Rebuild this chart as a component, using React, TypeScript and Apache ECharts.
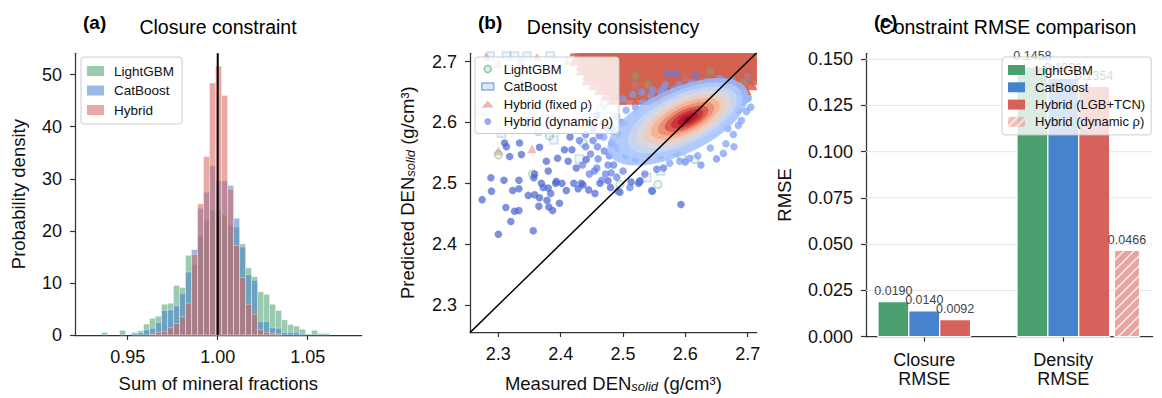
import React, { useEffect, useRef } from "react";
import * as echarts from "echarts";

const FONT = '"Liberation Sans", Arial, Helvetica, sans-serif';

// ---------------- Panel (a): closure histogram ----------------
const histFirstEdge = 0.93547;
const histBinWidth = 0.0033333;
const histLightGBM = [0.5, 0, 0, 0.9, 0, 0.5, 0.8, 2.1, 3.2, 3.6, 5.9, 6.1, 9.5, 9.1, 15.3, 13.5, 19, 22, 24, 24, 23, 21, 20.7, 17.5, 12.9, 11.2, 8.3, 7.8, 5.9, 4.7, 2.9, 2.0, 1.7, 1.1, 0.2, 0.9, 0.3, 0.3];
const histCatBoost = [0, 0, 0, 0, 0, 0.2, 0.4, 1.0, 1.3, 2.4, 4.7, 4.8, 5.6, 8.0, 12.1, 16.4, 24.3, 27.4, 32.5, 29.6, 29.6, 28.7, 22.4, 16.9, 11.6, 10.5, 2.6, 2.6, 1.4, 1.3, 0.5, 0.5, 0.5, 0.2, 0, 0, 0, 0];
const histHybrid = [0, 0, 0, 0, 0, 0, 0, 0, 0.2, 0.5, 0.7, 1.4, 2.2, 3.5, 6.1, 15.5, 25.2, 34.3, 48.4, 51.6, 46.0, 28.0, 17.2, 11.0, 5.9, 4.0, 1.0, 0.5, 0.3, 0.2, 0, 0, 0, 0, 0, 0, 0, 0];
const aXTicks = [0.95, 1.0, 1.05];
const aYTicks = [0, 10, 20, 30, 40, 50];
const closureTarget = 1.0;
const A_XMIN = 0.9207, A_XMAX = 1.08, A_YMAX = 54.1;

// ---------------- Panel (b): density scatter ----------------
const lgbmPoints = [[2.300, 2.547], [2.364, 2.585], [2.382, 2.578], [2.436, 2.566], [2.355, 2.515], [2.495, 2.498], [2.556, 2.498], [2.594, 2.544], [2.615, 2.539], [2.693, 2.665], [2.700, 2.640], [2.665, 2.630], [2.470, 2.630], [2.540, 2.662], [2.640, 2.684], [2.520, 2.676], [2.450, 2.700], [2.530, 2.590], [2.478, 2.610]];
const catPoints = [[2.287, 2.709], [2.313, 2.709], [2.326, 2.709], [2.346, 2.709], [2.383, 2.709], [2.273, 2.619], [2.305, 2.582], [2.389, 2.571], [2.693, 2.652], [2.538, 2.509], [2.700, 2.675], [2.560, 2.520], [2.465, 2.622], [2.520, 2.660], [2.480, 2.690], [2.600, 2.670], [2.430, 2.540]];
const fixedSparsePoints = [[2.300, 2.552], [2.354, 2.555], [2.281, 2.708], [2.362, 2.706], [2.410, 2.700], [2.335, 2.700], [2.300, 2.695], [2.520, 2.590], [2.690, 2.660]];
const fixedCloudRows: [number, number[]][] = [
  [2.722, [2.43, 2.45, 2.47, 2.49, 2.51, 2.53, 2.55, 2.57, 2.59, 2.61, 2.63, 2.65, 2.67, 2.69, 2.71]],
  [2.714, [2.44, 2.46, 2.48, 2.50, 2.52, 2.54, 2.56, 2.58, 2.60, 2.62, 2.64, 2.66, 2.68, 2.70]],
  [2.706, [2.43, 2.45, 2.47, 2.49, 2.51, 2.53, 2.55, 2.57, 2.59, 2.61, 2.63, 2.65, 2.67, 2.69, 2.71]],
  [2.698, [2.44, 2.46, 2.48, 2.50, 2.52, 2.54, 2.56, 2.58, 2.60, 2.62, 2.64, 2.66, 2.68, 2.70]],
  [2.690, [2.44, 2.45, 2.47, 2.49, 2.51, 2.53, 2.55, 2.57, 2.59, 2.61, 2.63, 2.65, 2.67, 2.69, 2.71]],
  [2.682, [2.45, 2.46, 2.48, 2.50, 2.52, 2.54, 2.56, 2.58, 2.60, 2.62, 2.64, 2.66, 2.68, 2.70]],
  [2.674, [2.45, 2.47, 2.49, 2.51, 2.53, 2.55, 2.57, 2.59, 2.61, 2.63, 2.65, 2.67, 2.69, 2.71]],
  [2.666, [2.46, 2.48, 2.50, 2.52, 2.54, 2.56, 2.58, 2.60, 2.62, 2.64, 2.66, 2.68, 2.70]],
  [2.658, [2.47, 2.49, 2.51, 2.53, 2.55, 2.57, 2.59, 2.61, 2.63, 2.65, 2.67, 2.69]],
  [2.650, [2.48, 2.50, 2.52, 2.54, 2.56, 2.58]],
  [2.642, [2.49, 2.51, 2.53, 2.55]],
];
// [x, y, local density 0..1]
const dynamicPoints = [
  [2.288, 2.509, 0.05], [2.309, 2.505, 0.05], [2.333, 2.505, 0.05], [2.357, 2.509, 0.05], [2.369, 2.500, 0.05], [2.392, 2.500, 0.05], [2.402, 2.500, 0.05], [2.421, 2.500, 0.05], [2.433, 2.500, 0.05], [2.436, 2.497, 0.05],
  [2.428, 2.491, 0.05], [2.445, 2.489, 0.05], [2.455, 2.483, 0.05], [2.463, 2.500, 0.05], [2.476, 2.504, 0.05], [2.480, 2.493, 0.05], [2.495, 2.485, 0.05], [2.513, 2.502, 0.05], [2.525, 2.500, 0.05], [2.527, 2.503, 0.05],
  [2.547, 2.487, 0.05], [2.593, 2.465, 0.05], [2.333, 2.491, 0.05], [2.348, 2.480, 0.05], [2.358, 2.481, 0.05], [2.366, 2.476, 0.05], [2.380, 2.492, 0.05], [2.384, 2.483, 0.05], [2.378, 2.472, 0.05], [2.398, 2.467, 0.05],
  [2.365, 2.462, 0.05], [2.381, 2.461, 0.05], [2.387, 2.455, 0.05], [2.274, 2.473, 0.05], [2.312, 2.460, 0.05], [2.326, 2.454, 0.05], [2.333, 2.455, 0.05], [2.320, 2.437, 0.05], [2.300, 2.416, 0.05], [2.356, 2.422, 0.05],
  [2.310, 2.566, 0.05], [2.334, 2.566, 0.05], [2.318, 2.544, 0.05], [2.337, 2.547, 0.05], [2.366, 2.559, 0.05], [2.377, 2.536, 0.05], [2.395, 2.541, 0.05], [2.406, 2.555, 0.05], [2.412, 2.536, 0.05], [2.358, 2.515, 0.05],
  [2.380, 2.520, 0.05], [2.393, 2.503, 0.05], [2.425, 2.525, 0.05], [2.441, 2.539, 0.05], [2.409, 2.488, 0.05], [2.372, 2.493, 0.05], [2.323, 2.488, 0.05], [2.289, 2.487, 0.05], [2.415, 2.576, 0.05], [2.418, 2.555, 0.05], [2.313, 2.560, 0.05],
  [2.440, 2.560, 0.12], [2.452, 2.570, 0.12], [2.448, 2.548, 0.12], [2.460, 2.540, 0.12], [2.470, 2.553, 0.12], [2.458, 2.525, 0.12], [2.472, 2.515, 0.12], [2.466, 2.505, 0.12], [2.485, 2.530, 0.12], [2.478, 2.545, 0.12],
  [2.490, 2.510, 0.12], [2.500, 2.520, 0.12], [2.446, 2.515, 0.12], [2.435, 2.530, 0.12], [2.482, 2.565, 0.12], [2.462, 2.578, 0.12], [2.475, 2.590, 0.12], [2.452, 2.590, 0.12], [2.440, 2.580, 0.12], [2.546, 2.488, 0.12],
  [2.527, 2.504, 0.12], [2.511, 2.493, 0.12], [2.492, 2.487, 0.12], [2.535, 2.515, 0.12], [2.565, 2.525, 0.12], [2.554, 2.523, 0.12], [2.459, 2.560, 0.12], [2.454, 2.520, 0.12], [2.476, 2.530, 0.12], [2.481, 2.517, 0.12],
  [2.571, 2.680, 0.12], [2.584, 2.680, 0.12], [2.617, 2.678, 0.12], [2.430, 2.570, 0.12], [2.445, 2.600, 0.12], [2.458, 2.612, 0.12], [2.470, 2.600, 0.15], [2.485, 2.585, 0.15], [2.498, 2.600, 0.15], [2.512, 2.580, 0.15],
  [2.528, 2.590, 0.18], [2.520, 2.560, 0.15], [2.535, 2.570, 0.18], [2.550, 2.560, 0.18], [2.505, 2.545, 0.15], [2.520, 2.540, 0.15], [2.540, 2.545, 0.15], [2.560, 2.545, 0.18], [2.585, 2.550, 0.2], [2.600, 2.535, 0.15],
  [2.625, 2.530, 0.15], [2.650, 2.540, 0.15], [2.665, 2.565, 0.2], [2.685, 2.595, 0.2], [2.695, 2.645, 0.2], [2.675, 2.670, 0.2], [2.655, 2.672, 0.2], [2.635, 2.668, 0.2], [2.610, 2.665, 0.2], [2.590, 2.662, 0.2],
  [2.565, 2.655, 0.2], [2.548, 2.653, 0.2],
  [2.581, 2.654, 0.2], [2.602, 2.657, 0.2], [2.623, 2.660, 0.2], [2.645, 2.665, 0.2], [2.661, 2.668, 0.2], [2.677, 2.660, 0.2], [2.560, 2.650, 0.2], [2.545, 2.645, 0.2], [2.690, 2.650, 0.2], [2.693, 2.633, 0.2],
  [2.690, 2.603, 0.2], [2.677, 2.580, 0.2], [2.678, 2.560, 0.2], [2.661, 2.549, 0.2], [2.640, 2.558, 0.2], [2.698, 2.618, 0.2], [2.685, 2.620, 0.2], [2.668, 2.590, 0.2], [2.607, 2.541, 0.2], [2.591, 2.536, 0.2],
  [2.575, 2.533, 0.2], [2.620, 2.545, 0.2], [2.500, 2.638, 0.2], [2.516, 2.646, 0.2], [2.532, 2.633, 0.2], [2.545, 2.635, 0.2], [2.482, 2.595, 0.2], [2.469, 2.576, 0.2], [2.492, 2.558, 0.2], [2.508, 2.565, 0.2],
  [2.490, 2.610, 0.2], [2.505, 2.620, 0.2], [2.520, 2.625, 0.2], [2.495, 2.580, 0.2], [2.510, 2.595, 0.2], [2.525, 2.610, 0.2], [2.530, 2.650, 0.2], [2.568, 2.662, 0.2], [2.655, 2.655, 0.2], [2.700, 2.640, 0.2], [2.705, 2.625, 0.2],
];
// dense core as density contours: [cx, cy, semi-major, semi-minor (data units), density]
const densityLevels = [
  [2.588, 2.601, 0.122, 0.053, 0.30],
  [2.592, 2.603, 0.108, 0.046, 0.36],
  [2.595, 2.604, 0.095, 0.040, 0.43],
  [2.597, 2.605, 0.083, 0.034, 0.50],
  [2.599, 2.605, 0.071, 0.029, 0.58],
  [2.600, 2.606, 0.060, 0.024, 0.67],
  [2.601, 2.606, 0.049, 0.019, 0.76],
  [2.602, 2.606, 0.038, 0.015, 0.85],
  [2.603, 2.606, 0.028, 0.011, 0.92],
  [2.604, 2.606, 0.018, 0.007, 0.97],
  [2.604, 2.606, 0.009, 0.0035, 1.0],
];
const densityAngle = 25;
const bTicks = [2.3, 2.4, 2.5, 2.6, 2.7];
const B_XMIN = 2.2545, B_XMAX = 2.7145, B_YMIN = 2.2555, B_YMAX = 2.7135;

// ---------------- Panel (c): RMSE bars ----------------
const rmseGroups = ["Closure\nRMSE", "Density\nRMSE"];
const rmseLightGBM = [0.0190, 0.1458];
const rmseCatBoost = [0.0140, 0.1396];
const rmseHybrid = [0.0092, 0.1354];
const rmseHybridDynamic = [null, 0.0466];
const cYTicks = [0, 0.025, 0.05, 0.075, 0.1, 0.125, 0.15];
const C_XMIN = -0.419, C_XMAX = 1.643, C_YMAX = 0.1532;

// ---------------- layout / style ----------------
const GRID_W = 286.7, GRID_H = 283.4, GRID_TOP = 53.3;
const GRID_LEFTS = [75, 470, 866];
const GREEN = "#4a9e6e", BLUE = "#4682cd", RED = "#d8615a";
const COOLWARM = ["#3b4cc0", "#5572df", "#7396f5", "#93b5fe", "#b3cdfb", "#d1dae9", "#ead4c8", "#f6bea4", "#f39c7f", "#e36c55", "#c83b3c", "#b40426"];
const TXT = "#111";
const AXIS_COLOR = "#333";

function valueAxis(gridIndex: number, min: number, max: number, ticks: number[], fmt: (v: number) => string, extra: any = {}) {
  return {
    type: "value",
    gridIndex,
    min,
    max,
    axisLine: { show: true, onZero: false, lineStyle: { color: AXIS_COLOR, width: 1.25 } },
    axisTick: { show: true, customValues: ticks, length: 5, lineStyle: { color: AXIS_COLOR, width: 1.2 } },
    axisLabel: { show: true, customValues: ticks, formatter: fmt, fontSize: 18, color: TXT, fontFamily: FONT, margin: 13 },
    splitLine: { show: false },
    nameLocation: "middle",
    nameTextStyle: { fontSize: 18.5, color: TXT, fontFamily: FONT },
    ...extra,
  };
}

function histSeries(name: string, heights: number[], color: string) {
  return {
    type: "custom",
    name,
    xAxisIndex: 0,
    yAxisIndex: 0,
    silent: true,
    data: heights.map((h, i) => [histFirstEdge + i * histBinWidth, histFirstEdge + (i + 1) * histBinWidth, h]),
    encode: { x: [0, 1], y: 2 },
    renderItem: (_p: any, api: any) => {
      const h = api.value(2);
      if (!(h > 0)) return null;
      const p0 = api.coord([api.value(0), h]);
      const p1 = api.coord([api.value(1), 0]);
      return {
        type: "rect",
        shape: { x: p0[0], y: p0[1], width: p1[0] - p0[0], height: p1[1] - p0[1] },
        style: { fill: color, opacity: 0.55, stroke: "#ffffff", lineWidth: 0.6 },
      };
    },
  };
}

// triangle markers drawn through the cartesian scale, clipped to the plot area
function triangleSeries(name: string, points: number[][], size: number, fill: string, opacity: number) {
  return {
    type: "custom",
    name,
    xAxisIndex: 1,
    yAxisIndex: 1,
    silent: true,
    clip: true,
    data: points,
    encode: { x: 0, y: 1 },
    renderItem: (_p: any, api: any) => {
      const c = api.coord([api.value(0), api.value(1)]);
      return {
        type: "polygon",
        shape: { points: [[c[0], c[1] - size * 0.6], [c[0] - size / 2, c[1] + size * 0.4], [c[0] + size / 2, c[1] + size * 0.4]] },
        style: { fill, opacity },
      };
    },
  };
}

function barSeries(name: string, vals: (number | null)[], offset: number, width: number, color: string, hatched: boolean) {
  const data: number[][] = [];
  vals.forEach((v, i) => { if (v != null) data.push([i, v]); });
  return {
    type: "custom",
    name,
    xAxisIndex: 2,
    yAxisIndex: 2,
    z: 3,
    silent: true,
    data,
    encode: { x: 0, y: 1 },
    renderItem: (_p: any, api: any) => {
      const g = api.value(0), v = api.value(1);
      const p0 = api.coord([g + offset - width / 2, v]);
      const p1 = api.coord([g + offset + width / 2, 0]);
      const w = p1[0] - p0[0], h = p1[1] - p0[1];
      const children: any[] = [
        { type: "rect", shape: { x: p0[0], y: p0[1], width: w, height: h }, style: { fill: color, stroke: "#ffffff", lineWidth: 1.2 } },
      ];
      if (hatched) {
        const lines: any[] = [];
        for (let s = -h; s < w; s += 10) {
          lines.push({ type: "line", shape: { x1: p0[0] + s, y1: p1[1], x2: p0[0] + s + h, y2: p0[1] }, style: { stroke: "rgba(255,255,255,0.85)", lineWidth: 1.3 } });
        }
        children.push({ type: "group", clipPath: { type: "rect", shape: { x: p0[0], y: p0[1], width: w, height: h } }, children: lines });
      }
      children.push({
        type: "text",
        x: (p0[0] + p1[0]) / 2,
        y: p0[1] - 4,
        style: { text: v.toFixed(4), fill: "#444", fontSize: 12.5, fontFamily: FONT, align: "center", verticalAlign: "bottom", textAlign: "center", textVerticalAlign: "bottom" },
      });
      return { type: "group", children };
    },
  };
}

function buildOption() {
  const pxPerX = GRID_W / (B_XMAX - B_XMIN);
  const pxPerY = GRID_H / (B_YMAX - B_YMIN);
  const fixedCloud: number[][] = [];
  fixedCloudRows.forEach(([y, xs]) => xs.forEach((x) => fixedCloud.push([x, y])));

  const series: any[] = [];
  // (a)
  series.push(histSeries("LightGBM", histLightGBM, GREEN));
  series.push(histSeries("CatBoost", histCatBoost, BLUE));
  series.push(histSeries("Hybrid", histHybrid, RED));
  series.push({
    type: "line", xAxisIndex: 0, yAxisIndex: 0, silent: true, symbol: "none", z: 5,
    data: [[closureTarget, 0], [closureTarget, A_YMAX]],
    lineStyle: { color: "#000", width: 2 },
  });
  // (b)
  series.push({
    type: "scatter", name: "LightGBM", xAxisIndex: 1, yAxisIndex: 1, silent: true, symbol: "circle", symbolSize: 8,
    data: lgbmPoints,
    itemStyle: { color: "rgba(150,210,170,0.25)", borderColor: "rgba(80,170,110,0.45)", borderWidth: 1.5 },
  });
  series.push({
    type: "scatter", name: "CatBoost", xAxisIndex: 1, yAxisIndex: 1, silent: true, symbol: "rect", symbolSize: 8,
    data: catPoints,
    itemStyle: { color: "rgba(150,185,235,0.18)", borderColor: "rgba(80,130,205,0.3)", borderWidth: 1.5 },
  });
  series.push(triangleSeries("Hybrid (fixed ρ)", fixedSparsePoints, 9, "#d8604f", 0.4));
  series.push(triangleSeries("Hybrid (fixed ρ)", fixedCloud, 20, "#d5604f", 0.85));
  const dynIndex = series.length;
  series.push({
    type: "scatter", name: "Hybrid (dynamic ρ)", xAxisIndex: 1, yAxisIndex: 1, silent: true, symbol: "circle", symbolSize: 7.5,
    data: dynamicPoints,
    itemStyle: { color: "#4a62d6", opacity: 0.7 },
  });
  const coreIndex = series.length;
  series.push({
    type: "scatter", name: "densityCore", xAxisIndex: 1, yAxisIndex: 1, silent: true, symbol: "circle",
    symbolSize: (val: number[]) => [2 * val[2] * pxPerX, 2 * val[3] * pxPerY],
    symbolRotate: densityAngle,
    data: densityLevels,
    encode: { x: 0, y: 1 },
    itemStyle: { opacity: 1 },
  });
  series.push({
    type: "line", xAxisIndex: 1, yAxisIndex: 1, silent: true, symbol: "none", z: 5,
    data: [[B_XMIN, B_XMIN], [B_XMAX, B_XMAX]],
    lineStyle: { color: "#000", width: 1.5 },
  });
  // (c)
  series.push({
    type: "custom", xAxisIndex: 2, yAxisIndex: 2, z: 1, silent: true,
    data: cYTicks.slice(1).map((v) => [v]),
    encode: { y: 0 },
    renderItem: (_p: any, api: any) => {
      const v = api.value(0);
      const a = api.coord([C_XMIN, v]);
      const b = api.coord([C_XMAX, v]);
      return { type: "line", shape: { x1: a[0], y1: a[1], x2: b[0], y2: b[1] }, style: { stroke: "#e6e6e6", lineWidth: 1 } };
    },
  });
  series.push(barSeries("LightGBM", rmseLightGBM, -0.222, 0.222, "#4aa06f", false));
  series.push(barSeries("CatBoost", rmseCatBoost, 0, 0.222, "#4683cc", false));
  series.push(barSeries("Hybrid (LGB+TCN)", rmseHybrid, 0.222, 0.222, "#d7625b", false));
  series.push(barSeries("Hybrid (dynamic ρ)", rmseHybridDynamic, 0.458, 0.18, "#e8a49e", true));

  const legendBase = {
    orient: "vertical",
    selectedMode: false,
    backgroundColor: "rgba(255,255,255,0.8)",
    borderColor: "#cccccc",
    borderWidth: 1,
    borderRadius: 3,
    textStyle: { fontSize: 13, color: TXT, fontFamily: FONT, lineHeight: 14, padding: [0, 0, 0, 5] },
  };
  const richName = {
    n: { fontSize: 18.5, color: TXT, fontFamily: FONT, lineHeight: 22, verticalAlign: "bottom" },
    s: { fontSize: 13, color: TXT, fontFamily: FONT, fontStyle: "italic", lineHeight: 12, verticalAlign: "bottom" },
  };

  return {
    animation: false,
    textStyle: { fontFamily: FONT },
    grid: GRID_LEFTS.map((left) => ({ left, top: GRID_TOP, width: GRID_W, height: GRID_H, containLabel: false })),
    xAxis: [
      valueAxis(0, A_XMIN, A_XMAX, aXTicks, (v) => v.toFixed(2), { name: "Sum of mineral fractions", nameGap: 39 }),
      valueAxis(1, B_XMIN, B_XMAX, bTicks, (v) => v.toFixed(1), {
        name: "{n|Measured DEN}{s|solid}{n| (g/cm³)}",
        nameGap: 39,
        nameTextStyle: { color: TXT, fontFamily: FONT, rich: richName },
      }),
      valueAxis(2, C_XMIN, C_XMAX, [0, 1], (v) => rmseGroups[Math.round(v)] || "", {
        axisLabel: { show: true, customValues: [0, 1], formatter: (v: number) => rmseGroups[Math.round(v)] || "", fontSize: 18, color: TXT, fontFamily: FONT, margin: 14, lineHeight: 19 },
      }),
    ],
    yAxis: [
      valueAxis(0, 0, A_YMAX, aYTicks, (v) => String(v), { name: "Probability density", nameGap: 47 }),
      valueAxis(1, B_YMIN, B_YMAX, bTicks, (v) => v.toFixed(1), {
        name: "{n|Predicted DEN}{s|solid}{n| (g/cm³)}",
        nameGap: 53,
        nameTextStyle: { color: TXT, fontFamily: FONT, rich: richName },
      }),
      valueAxis(2, 0, C_YMAX, cYTicks, (v) => v.toFixed(3), { name: "RMSE", nameGap: 72 }),
    ],
    visualMap: [
      { type: "continuous", show: false, min: 0, max: 1, dimension: 2, seriesIndex: dynIndex, inRange: { color: COOLWARM } },
      { type: "continuous", show: false, min: 0, max: 1, dimension: 4, seriesIndex: coreIndex, inRange: { color: COOLWARM, opacity: [0.72, 1] } },
    ],
    legend: [
      {
        ...legendBase,
        left: 81, top: 57, padding: [7, 8, 7, 6], itemWidth: 17, itemHeight: 10, itemGap: 5.5,
        textStyle: { ...legendBase.textStyle, fontSize: 13.5 },
        data: [
          { name: "LightGBM", icon: "rect", itemStyle: { color: "rgba(74,158,110,0.55)", borderWidth: 0 } },
          { name: "CatBoost", icon: "rect", itemStyle: { color: "rgba(70,130,205,0.55)", borderWidth: 0 } },
          { name: "Hybrid", icon: "rect", itemStyle: { color: "rgba(216,97,90,0.55)", borderWidth: 0 } },
        ],
      },
      {
        ...legendBase,
        left: 475, top: 57, padding: [5, 6, 5, 6], itemWidth: 12, itemHeight: 7, itemGap: 3.5,
        data: [
          { name: "LightGBM", icon: "circle", itemStyle: { color: "rgba(150,210,170,0.35)", borderColor: "rgba(80,170,110,0.6)", borderWidth: 1.5 } },
          { name: "CatBoost", icon: "rect", itemStyle: { color: "rgba(150,185,235,0.35)", borderColor: "rgba(80,130,205,0.6)", borderWidth: 1.5 } },
          { name: "Hybrid (fixed ρ)", icon: "triangle", itemStyle: { color: "rgba(216,96,80,0.45)", borderWidth: 0 } },
          { name: "Hybrid (dynamic ρ)", icon: "circle", itemStyle: { color: "rgba(74,98,214,0.75)", borderWidth: 0 } },
        ],
      },
      {
        ...legendBase,
        left: 1002, top: 57, padding: [6, 6, 6, 6], itemWidth: 17, itemHeight: 10, itemGap: 3.3,
        data: [
          { name: "LightGBM", icon: "rect", itemStyle: { color: "#4aa06f", borderWidth: 0 } },
          { name: "CatBoost", icon: "rect", itemStyle: { color: "#4683cc", borderWidth: 0 } },
          { name: "Hybrid (LGB+TCN)", icon: "rect", itemStyle: { color: "#d7625b", borderWidth: 0 } },
          {
            name: "Hybrid (dynamic ρ)", icon: "rect",
            itemStyle: {
              color: "#e8a49e", borderWidth: 0,
              decal: { symbol: "rect", symbolSize: 1, rotation: -Math.PI / 4, dashArrayX: [1, 0], dashArrayY: [2, 4], color: "rgba(255,255,255,0.85)" },
            },
          },
        ],
      },
    ],
    graphic: [
      { type: "text", x: 83, y: 22, style: { text: "(a)", font: `bold 19px ${FONT}`, fill: "#000", align: "left", verticalAlign: "middle", textAlign: "left", textVerticalAlign: "middle" } },
      { type: "text", x: 218, y: 27, style: { text: "Closure constraint", font: `19.5px ${FONT}`, fill: "#000", align: "center", verticalAlign: "middle", textAlign: "center", textVerticalAlign: "middle" } },
      { type: "text", x: 478, y: 22, style: { text: "(b)", font: `bold 19px ${FONT}`, fill: "#000", align: "left", verticalAlign: "middle", textAlign: "left", textVerticalAlign: "middle" } },
      { type: "text", x: 613, y: 27, style: { text: "Density consistency", font: `19.5px ${FONT}`, fill: "#000", align: "center", verticalAlign: "middle", textAlign: "center", textVerticalAlign: "middle" } },
      { type: "text", x: 874, y: 21, style: { text: "(c)", font: `bold 19px ${FONT}`, fill: "#000", align: "left", verticalAlign: "middle", textAlign: "left", textVerticalAlign: "middle" } },
      { type: "text", x: 1008, y: 27, style: { text: "Constraint RMSE comparison", font: `19.5px ${FONT}`, fill: "#000", align: "center", verticalAlign: "middle", textAlign: "center", textVerticalAlign: "middle" } },
    ],
    series,
  };
}

export default function App() {
  const ref = useRef<HTMLDivElement>(null);
  useEffect(() => {
    if (!ref.current) return;
    const chart = echarts.init(ref.current, null, { renderer: "svg" });
    chart.setOption(buildOption() as any);
    return () => chart.dispose();
  }, []);
  return <div ref={ref} style={{ position: "absolute", left: 0, top: 0, width: 1162, height: 398, background: "#fff" }} />;
}
